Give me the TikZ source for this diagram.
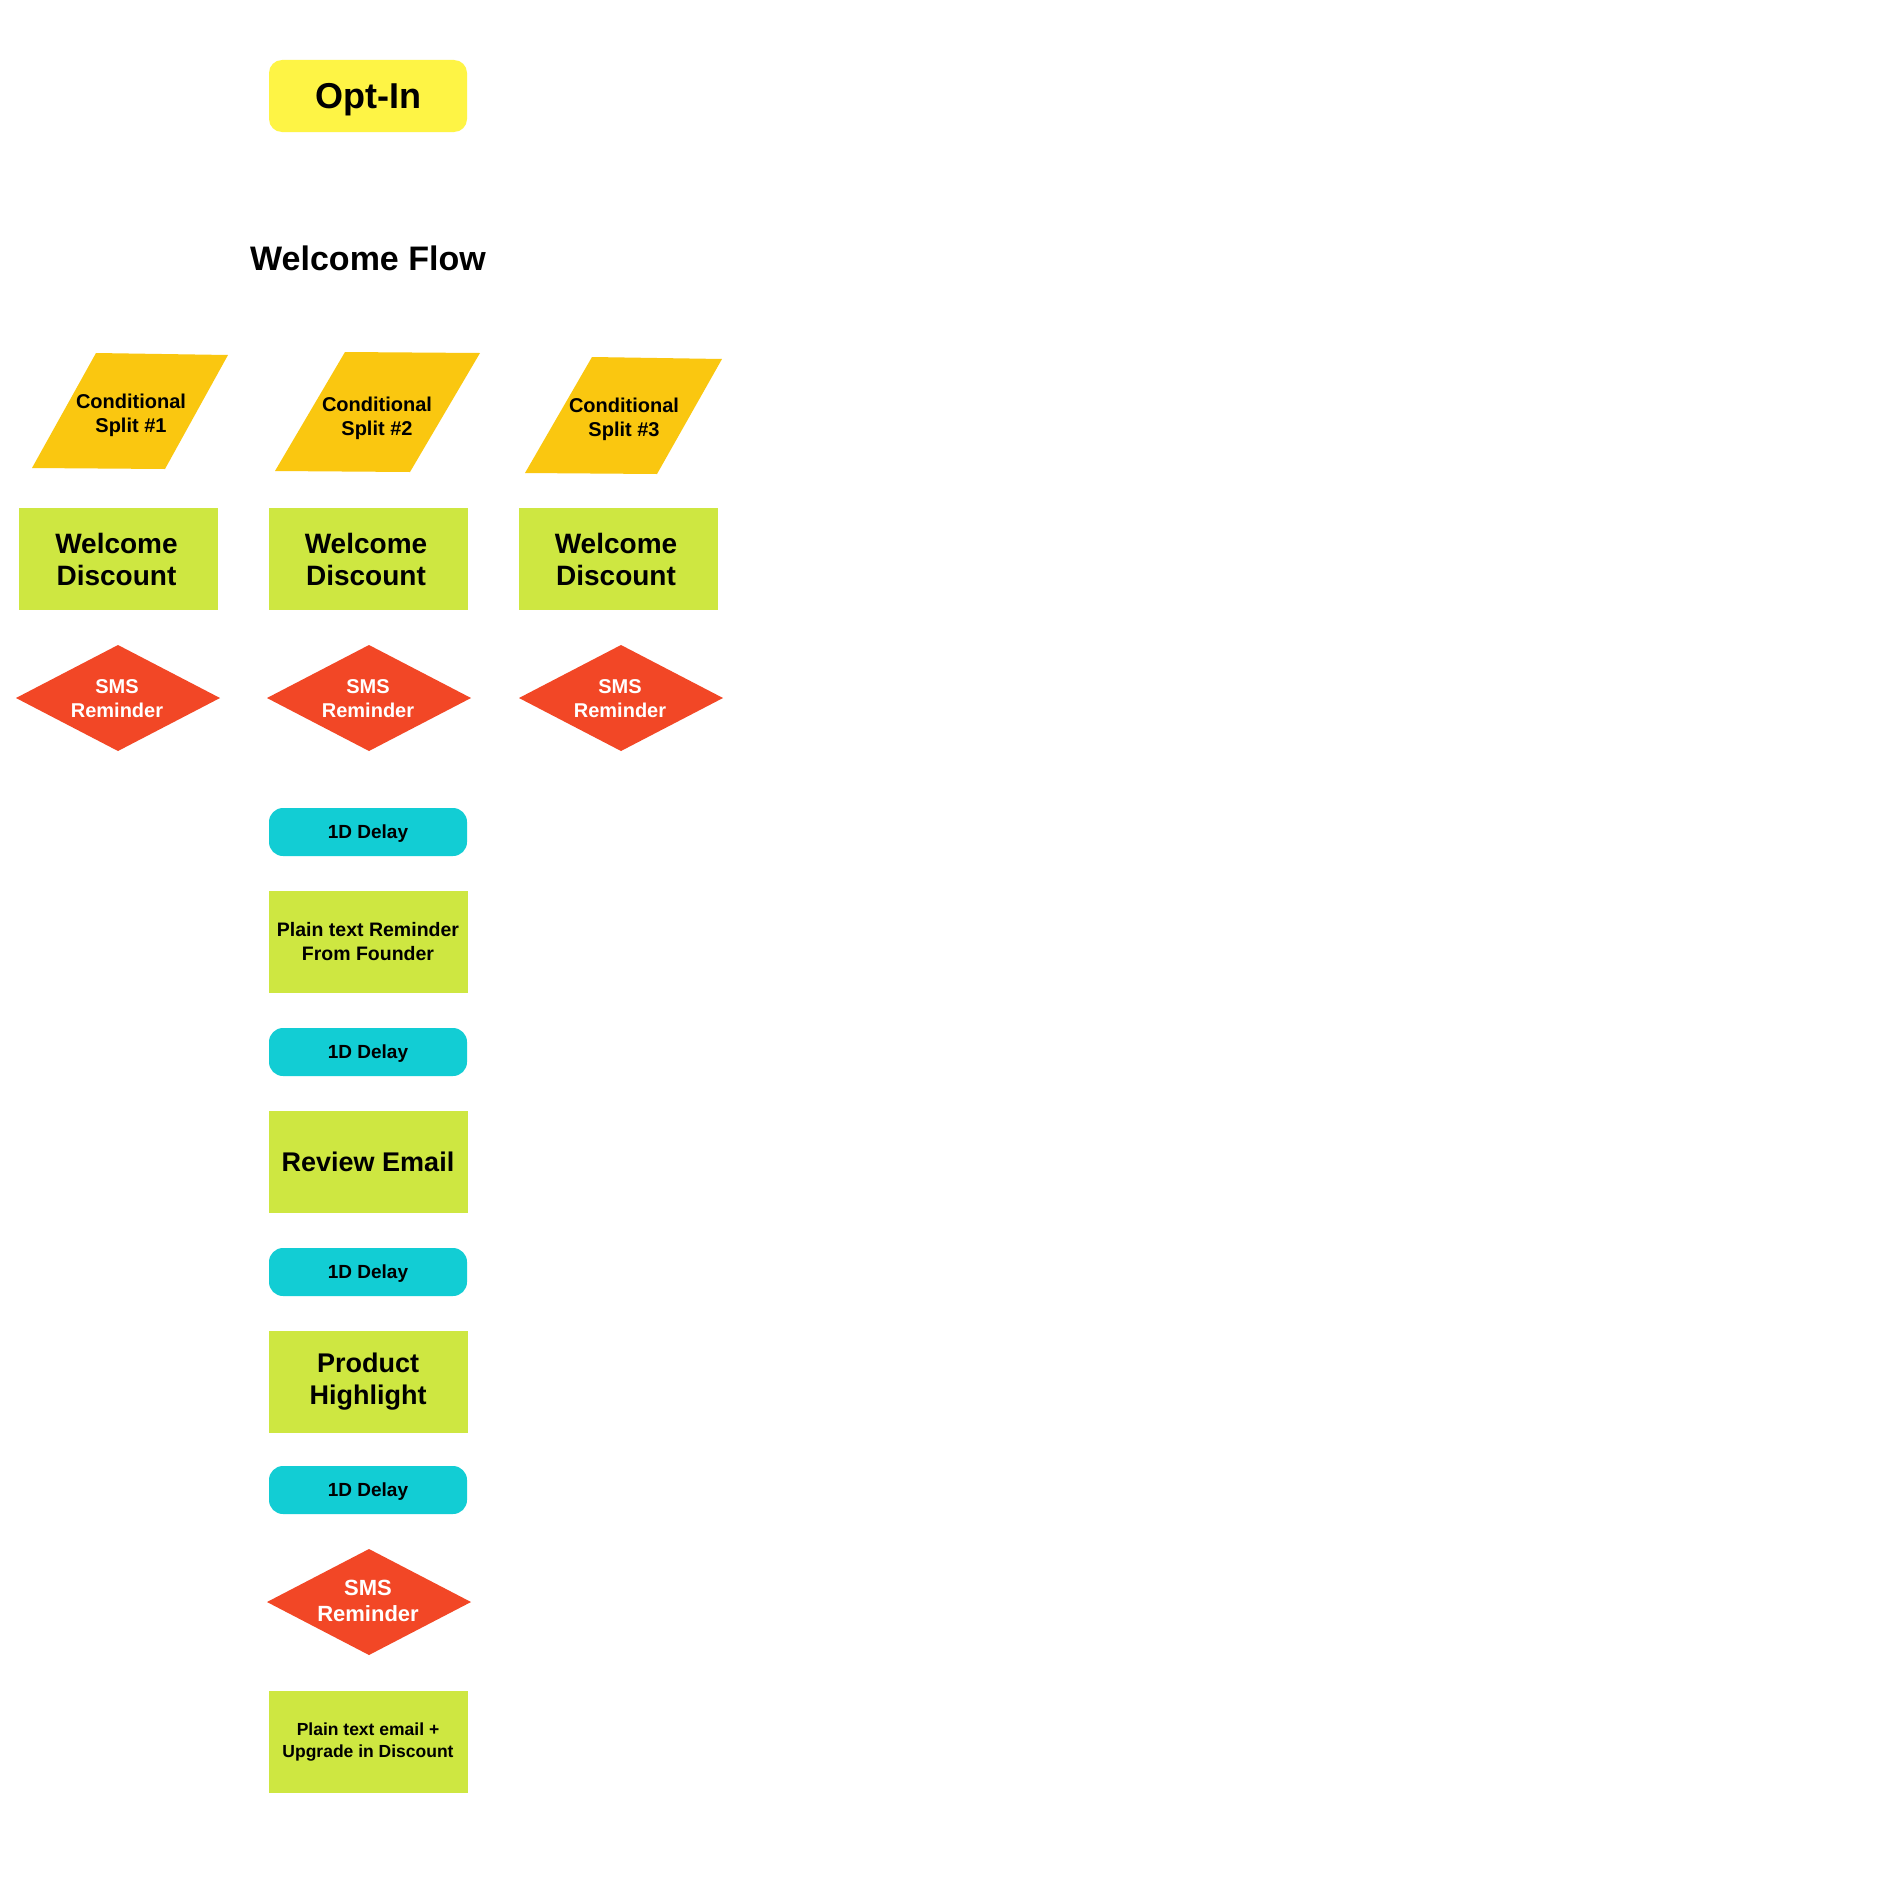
\documentclass[tikz,border=0pt]{standalone}
\usepackage{fontspec}
\setmainfont{Liberation Sans}
\definecolor{optyellow}{HTML}{FEF445}
\definecolor{splitorange}{HTML}{FAC710}
\definecolor{boxgreen}{HTML}{CEE741}
\definecolor{smsred}{HTML}{F24726}
\definecolor{delaycyan}{HTML}{12CDD4}
\begin{document}
\begin{tikzpicture}[x=1pt,y=-1pt,
  greenbox/.style={rectangle,fill=boxgreen,minimum width=199pt,minimum height=102pt,inner sep=0pt,align=center,font=\bfseries},
  delaybox/.style={rectangle,rounded corners=14pt,fill=delaycyan,minimum width=198pt,minimum height=48pt,inner sep=0pt,text depth=0pt,font=\bfseries\fontsize{19}{22}\selectfont},
  optbox/.style={rectangle,rounded corners=13pt,fill=optyellow,minimum width=198pt,minimum height=72pt,inner sep=0pt,text depth=0pt,font=\bfseries\fontsize{36}{40}\selectfont},
  splittext/.style={align=center,inner sep=0pt,font=\bfseries\fontsize{20}{24}\selectfont},
  smstext/.style={align=center,inner sep=0pt,text=white,font=\bfseries\fontsize{20}{24}\selectfont},
]
\useasboundingbox (0,0) rectangle (1876,1884);
\fill[white] (0,0) rectangle (1876,1884);

% Opt-In and title
\node[optbox] (optin) at (368,96) {Opt-In};
\node[inner sep=0pt,font=\bfseries\fontsize{34}{40}\selectfont] (title) at (368,258) {Welcome Flow};

% Conditional splits (parallelograms)
\fill[splitorange] (96,353) -- (228,355) -- (165,469) -- (32,468) -- cycle;
\node[splittext] (split1) at (131,415) {Conditional\\Split \#1};
\fill[splitorange] (345,352) -- (480,353) -- (410,472) -- (275,471) -- cycle;
\node[splittext] (split2) at (377,418) {Conditional\\Split \#2};
\fill[splitorange] (592,357) -- (722,359) -- (657,474) -- (525,473) -- cycle;
\node[splittext] (split3) at (624,419) {Conditional\\Split \#3};

% Welcome discount boxes
\node[greenbox,font=\bfseries\fontsize{28}{32}\selectfont] (wd1) at (118.5,559) {\hspace*{-4pt}Welcome\\\hspace*{-4pt}Discount};
\node[greenbox,font=\bfseries\fontsize{28}{32}\selectfont] (wd2) at (368,559) {\hspace*{-4pt}Welcome\\\hspace*{-4pt}Discount};
\node[greenbox,font=\bfseries\fontsize{28}{32}\selectfont] (wd3) at (618,559) {\hspace*{-4pt}Welcome\\\hspace*{-4pt}Discount};

% SMS diamonds
\fill[smsred] (16,698) -- (118,645) -- (220,698) -- (118,751) -- cycle;
\node[smstext] (sms1) at (117,699) {SMS\\Reminder};
\fill[smsred] (267,698) -- (369,645) -- (471,698) -- (369,751) -- cycle;
\node[smstext] (sms2) at (368,699) {SMS\\Reminder};
\fill[smsred] (519,698) -- (621,645) -- (723,698) -- (621,751) -- cycle;
\node[smstext] (sms3) at (620,699) {SMS\\Reminder};

% Main column
\node[delaybox] (d1) at (368,832) {1D Delay};
\node[greenbox,font=\bfseries\fontsize{19.5}{24}\selectfont] (ptr) at (368,942) {Plain text Reminder\\From Founder};
\node[delaybox] (d2) at (368,1052) {1D Delay};
\node[greenbox,font=\bfseries\fontsize{27}{32}\selectfont] (review) at (368,1161.5) {Review Email};
\node[delaybox] (d3) at (368,1272) {1D Delay};
\node[greenbox,font=\bfseries\fontsize{27}{32}\selectfont] (product) at (368,1381.5) {Product\\Highlight};
\node[delaybox] (d4) at (368,1490) {1D Delay};
\fill[smsred] (267,1602) -- (369,1549) -- (471,1602) -- (369,1655) -- cycle;
\node[smstext,font=\bfseries\fontsize{22}{26}\selectfont] (sms4) at (368,1601) {SMS\\Reminder};
\node[greenbox,font=\bfseries\fontsize{17.5}{22}\selectfont] (pte) at (368,1741.5) {Plain text email +\\Upgrade in Discount};
\end{tikzpicture}
\end{document}
